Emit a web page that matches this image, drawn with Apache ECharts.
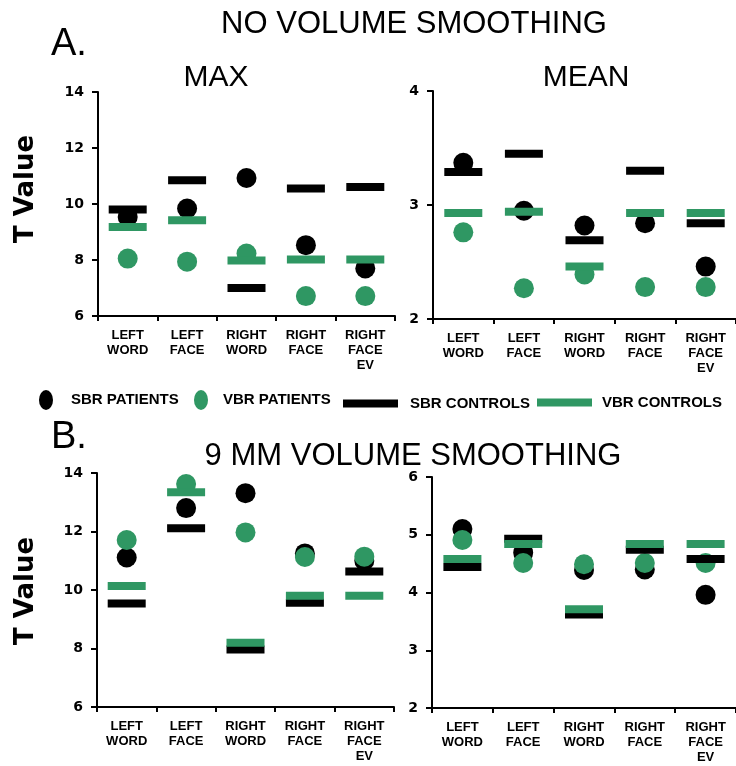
<!DOCTYPE html>
<html>
<head>
<meta charset="utf-8">
<style>
  html, body { margin: 0; padding: 0; background: #fff; }
  #chart { width: 736px; height: 766px; }
</style>
<script src="https://cdn.jsdelivr.net/npm/echarts@6/dist/echarts.min.js"></script>
</head>
<body>
<div id="chart"></div>
<script>
const categories = ['LEFT\nWORD', 'LEFT\nFACE', 'RIGHT\nWORD', 'RIGHT\nFACE', 'RIGHT\nFACE\nEV'];

// A. no volume smoothing - MAX
const aMaxSbrPatients = [9.54, 9.84, 10.93, 8.53, 7.70];
const aMaxVbrPatients = [8.05, 7.94, 8.23, 6.71, 6.71];
const aMaxSbrControls = [9.80, 10.85, 7.00, 10.55, 10.61];
const aMaxVbrControls = [9.18, 9.42, 7.98, 8.02, 8.02];

// A. no volume smoothing - MEAN
const aMeanSbrPatients = [3.37, 2.95, 2.82, 2.84, 2.46];
const aMeanVbrPatients = [2.76, 2.27, 2.39, 2.28, 2.28];
const aMeanSbrControls = [3.29, 3.45, 2.69, 3.30, 2.84];
const aMeanVbrControls = [2.93, 2.94, 2.46, 2.93, 2.93];

// B. 9 mm volume smoothing - MAX
const bMaxSbrPatients = [11.11, 12.80, 13.31, 11.25, 11.00];
const bMaxVbrPatients = [11.71, 13.62, 11.97, 11.13, 11.14];
const bMaxSbrControls = [9.54, 12.11, 7.97, 9.56, 10.63];
const bMaxVbrControls = [10.14, 13.34, 8.20, 9.80, 9.80];

// B. 9 mm volume smoothing - MEAN
const bMeanSbrPatients = [5.10, 4.69, 4.39, 4.40, 3.96];
const bMeanVbrPatients = [4.91, 4.51, 4.49, 4.51, 4.51];
const bMeanSbrControls = [4.44, 4.93, 3.62, 4.74, 4.58];
const bMeanVbrControls = [4.58, 4.84, 3.71, 4.84, 4.84];

const yMaxTicks = [6, 14, 2];
const yMeanATicks = [2, 4, 1];
const yMeanBTicks = [2, 6, 1];

const BLACK = '#000';
const GREEN = '#2f9763';
const sans = "'Liberation Sans', Arial, sans-serif";

const grids = [
  { left: 98, top: 92, width: 297, height: 224 },
  { left: 433, top: 91, width: 303, height: 228 },
  { left: 97, top: 473, width: 297, height: 234 },
  { left: 432, top: 477, width: 304, height: 231 },
];

const axisLine = { show: true, lineStyle: { color: BLACK, width: 2 } };

const xAxes = grids.map((g, i) => ({
  type: 'category',
  gridIndex: i,
  data: categories,
  boundaryGap: true,
  axisLine,
  axisTick: { show: true, length: 5, lineStyle: { color: BLACK, width: 2 } },
  axisLabel: {
    interval: 0,
    color: BLACK,
    fontFamily: sans,
    fontWeight: 'bold',
    fontSize: 13,
    lineHeight: 15,
    margin: 12,
  },
}));

const yAxes = [yMaxTicks, yMeanATicks, yMaxTicks, yMeanBTicks].map((t, i) => ({
  type: 'value',
  gridIndex: i,
  min: t[0],
  max: t[1],
  interval: t[2],
  axisLine,
  axisTick: { show: true, length: 6, lineStyle: { color: BLACK, width: 2 } },
  splitLine: { show: false },
  axisLabel: {
    color: BLACK,
    fontFamily: "'DejaVu Sans', Verdana, sans-serif",
    fontWeight: 'bold',
    fontSize: 14,
    margin: 14,
  },
}));

const panels = [
  [aMaxSbrPatients, aMaxVbrPatients, aMaxSbrControls, aMaxVbrControls],
  [aMeanSbrPatients, aMeanVbrPatients, aMeanSbrControls, aMeanVbrControls],
  [bMaxSbrPatients, bMaxVbrPatients, bMaxSbrControls, bMaxVbrControls],
  [bMeanSbrPatients, bMeanVbrPatients, bMeanSbrControls, bMeanVbrControls],
];

const seriesDefs = [
  { name: 'SBR PATIENTS', symbol: 'circle', symbolSize: 20, color: BLACK },
  { name: 'VBR PATIENTS', symbol: 'circle', symbolSize: 20, color: GREEN },
  { name: 'SBR CONTROLS', symbol: 'rect', symbolSize: [38, 8], color: BLACK },
  { name: 'VBR CONTROLS', symbol: 'rect', symbolSize: [38, 8], color: GREEN },
];

const series = [];
panels.forEach((p, i) => {
  p.forEach((vals, k) => {
    const d = seriesDefs[k];
    series.push({
      name: d.name,
      type: 'scatter',
      xAxisIndex: i,
      yAxisIndex: i,
      symbol: d.symbol,
      symbolSize: d.symbolSize,
      itemStyle: { color: d.color, opacity: 1 },
      emphasis: { disabled: true },
      data: vals,
    });
  });
});

// legend: tall ellipses for patients, long bars for controls
const ellipse = 'path://M7,0A7,10,0,1,1,7,20A7,10,0,1,1,7,0Z';
const legends = [
  { name: 'SBR PATIENTS', left: 39, top: 390, icon: ellipse, w: 14, h: 20, pad: 13 },
  { name: 'VBR PATIENTS', left: 194, top: 390, icon: ellipse, w: 14, h: 20, pad: 10 },
  { name: 'SBR CONTROLS', left: 343, top: 396, icon: 'rect', w: 55, h: 8, pad: 7 },
  { name: 'VBR CONTROLS', left: 537, top: 395, icon: 'rect', w: 55, h: 8, pad: 5 },
].map(l => ({
  data: [{ name: l.name, icon: l.icon }],
  left: l.left,
  top: l.top,
  itemWidth: l.w,
  itemHeight: l.h,
  itemGap: 0,
  padding: 0,
  textStyle: {
    color: BLACK,
    fontFamily: sans,
    fontWeight: 'bold',
    fontSize: 15,
    padding: [0, 0, 0, l.pad],
  },
}));

const titleStyle = size => ({ color: BLACK, fontFamily: sans, fontWeight: 'normal', fontSize: size });

const tValue = y => ({
  type: 'text', x: 26, y, rotation: Math.PI / 2,
  style: {
    text: 'T Value', fill: BLACK,
    font: "bold 26px 'DejaVu Sans', Verdana, sans-serif",
    align: 'center', verticalAlign: 'middle',
  },
});

const option = {
  animation: false,
  backgroundColor: '#fff',
  title: [
    { text: 'NO VOLUME SMOOTHING', left: 409, top: 4, textAlign: 'center', textStyle: titleStyle(31) },
    { text: 'A.', left: 46, top: 21, textStyle: titleStyle(38) },
    { text: 'MAX', left: 211, top: 58, textAlign: 'center', textStyle: titleStyle(30) },
    { text: 'MEAN', left: 581, top: 58, textAlign: 'center', textStyle: titleStyle(30) },
    { text: 'B.', left: 46, top: 414, textStyle: titleStyle(38) },
    { text: '9 MM VOLUME SMOOTHING', left: 408, top: 436, textAlign: 'center', textStyle: titleStyle(31) },
  ],
  legend: legends,
  grid: grids,
  xAxis: xAxes,
  yAxis: yAxes,
  series,
  graphic: [tValue(189), tValue(591)],
};

const chart = echarts.init(document.getElementById('chart'), null, { renderer: 'canvas' });
chart.setOption(option);
</script>
</body>
</html>
